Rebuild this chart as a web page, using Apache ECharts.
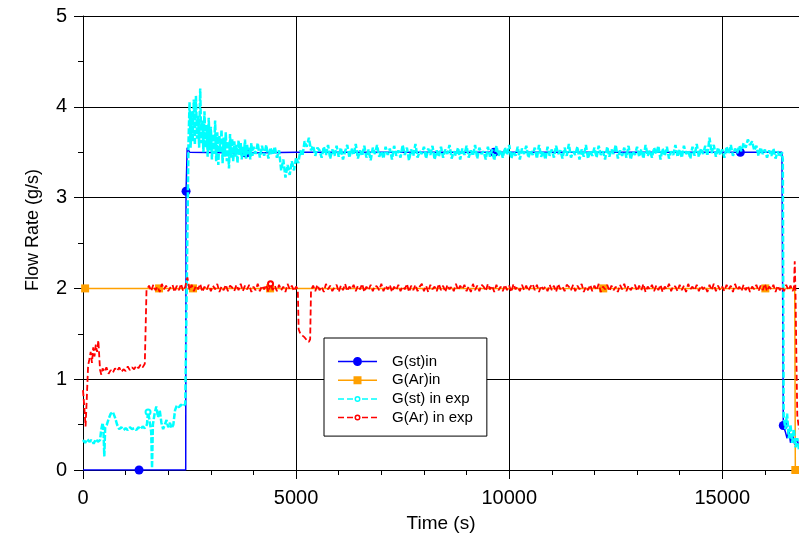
<!DOCTYPE html>
<html><head><meta charset="utf-8">
<script src="https://cdn.jsdelivr.net/npm/echarts@6/dist/echarts.min.js"></script>
<style>html,body{margin:0;padding:0;background:#fff}#c{width:799px;height:538px}</style>
</head><body><div id="c"></div>
<script>
// ---------------- data ----------------
const seriesNames = ['G(st)in', 'G(Ar)in', 'G(st) in exp', 'G(Ar) in exp'];
const xTicks = [0, 5000, 10000, 15000];
const yTicks = [0, 1, 2, 3, 4, 5];

// G(st)in
const stInTime = [0, 1315, 2410, 2418, 2445, 2500, 3826, 5000, 9648, 15423, 16400, 16432, 16480, 16520, 16560, 16600, 16650, 16700, 16750, 16800];
const stInFlow = [0, 0, 0, 3.07, 3.55, 3.5, 3.49, 3.5, 3.5, 3.5, 3.5, 0.49, 0.42, 0.35, 0.45, 0.30, 0.38, 0.28, 0.35, 0.25];
const stInMarks = [1315, 2418, 3826, 9648, 15423, 16432];

// G(Ar)in
const arInTime = [0, 50, 1784, 2582, 4390, 12207, 16010, 16700, 16714];
const arInFlow = [2, 2, 2, 2, 2, 2, 2, 2, 0];
const arInMarks = [50, 1784, 2582, 4390, 12207, 16010, 16714];

// G(st) in exp
const stExpTime = [0, 50, 100, 150, 200, 250, 300, 350, 400, 430, 460, 480, 500, 520, 560, 600, 650, 700, 750, 800, 850, 900, 950, 1000, 1050, 1100, 1150, 1200, 1250, 1300, 1350, 1400, 1450, 1500, 1526, 1560, 1600, 1620, 1640, 1680, 1720, 1760, 1800, 1840, 1880, 1920, 1960, 2000, 2040, 2080, 2120, 2160, 2200, 2250, 2300, 2350, 2400, 2440, 2460,
  2475, 2500, 2525, 2550, 2575, 2600, 2625, 2650, 2675, 2700, 2725, 2750, 2775, 2800, 2825, 2850, 2875, 2900, 2925, 2950, 2975,
  3000, 3025, 3050, 3075, 3100, 3125, 3150, 3175, 3200, 3225, 3250, 3275, 3300, 3325, 3350, 3375, 3400, 3425, 3450, 3475, 3500,
  3525, 3550, 3575, 3600, 3625, 3650, 3675, 3700, 3725, 3750, 3775, 3800, 3825, 3850, 3875, 3900, 3925, 3950, 3975, 4000,
  4050, 4100, 4150, 4200, 4250, 4300, 4350, 4400, 4450, 4500, 4550, 4600, 4650, 4700, 4750, 4800, 4850, 4900, 4950, 5000, 5050, 5100, 5150, 5200, 5250, 5300, 5350, 5400, 5450, 5500,
  5550, 5600, 5650, 5700, 5750, 5800, 5850, 5900, 5950, 6000, 6050, 6100, 6150, 6200, 6250, 6300, 6350, 6400, 6450, 6500,
  6550, 6600, 6650, 6700, 6750, 6800, 6850, 6900, 6950, 7000, 7050, 7100, 7150, 7200, 7250, 7300, 7350, 7400, 7450, 7500,
  7550, 7600, 7650, 7700, 7750, 7800, 7850, 7900, 7950, 8000, 8050, 8100, 8150, 8200, 8250, 8300, 8350, 8400, 8450, 8500,
  8550, 8600, 8650, 8700, 8750, 8800, 8850, 8900, 8950, 9000, 9050, 9100, 9150, 9200, 9250, 9300, 9350, 9400, 9450, 9500,
  9550, 9600, 9650, 9700, 9750, 9800, 9850, 9900, 9950, 10000, 10050, 10100, 10150, 10200, 10250, 10300, 10350, 10400, 10450, 10500,
  10550, 10600, 10650, 10700, 10750, 10800, 10850, 10900, 10950, 11000, 11050, 11100, 11150, 11200, 11250, 11300, 11350, 11400, 11450, 11500,
  11550, 11600, 11650, 11700, 11750, 11800, 11850, 11900, 11950, 12000, 12050, 12100, 12150, 12200, 12250, 12300, 12350, 12400, 12450, 12500,
  12550, 12600, 12650, 12700, 12750, 12800, 12850, 12900, 12950, 13000, 13050, 13100, 13150, 13200, 13250, 13300, 13350, 13400, 13450, 13500,
  13550, 13600, 13650, 13700, 13750, 13800, 13850, 13900, 13950, 14000, 14050, 14100, 14150, 14200, 14250, 14300, 14350, 14400, 14450, 14500,
  14550, 14600, 14650, 14700, 14750, 14800, 14850, 14900, 14950, 15000, 15050, 15100, 15150, 15200, 15250, 15300, 15350, 15400, 15450, 15500,
  15550, 15600, 15650, 15700, 15750, 15800, 15850, 15900, 15950, 16000, 16050, 16100, 16150, 16200, 16250, 16300, 16350, 16400,
  16420, 16440, 16480, 16520, 16560, 16600, 16640, 16680, 16720, 16760, 16800];
const stExpFlow = [0.33, 0.30, 0.34, 0.31, 0.33, 0.29, 0.34, 0.31, 0.33, 0.45, 0.52, 0.44, 0.15, 0.47, 0.50, 0.56, 0.62, 0.64, 0.58, 0.50, 0.45, 0.47, 0.44, 0.46, 0.44, 0.47, 0.45, 0.46, 0.44, 0.47, 0.45, 0.48, 0.46, 0.50, 0.64, 0.55, 0.42, 0.02, 0.50, 0.62, 0.70, 0.58, 0.66, 0.52, 0.45, 0.50, 0.55, 0.47, 0.52, 0.46, 0.50, 0.66, 0.71, 0.69, 0.72, 0.70, 0.73, 0.71, 3.00,
  3.60, 4.05, 3.55, 3.95, 3.62, 4.08, 3.58, 4.12, 3.65, 3.90, 3.55, 4.20, 3.60, 3.85, 3.50, 3.95, 3.55, 3.80, 3.45, 3.88, 3.52,
  3.78, 3.42, 3.70, 3.48, 3.85, 3.40, 3.72, 3.36, 3.68, 3.50, 3.75, 3.38, 3.66, 3.45, 3.72, 3.40, 3.62, 3.32, 3.70, 3.44, 3.65,
  3.40, 3.62, 3.45, 3.58, 3.38, 3.63, 3.47, 3.60, 3.42, 3.57, 3.46, 3.64, 3.43, 3.58, 3.48, 3.55, 3.42, 3.60, 3.46, 3.56,
  3.48, 3.60, 3.44, 3.57, 3.46, 3.58, 3.43, 3.55, 3.47, 3.56, 3.44, 3.52, 3.30, 3.42, 3.22, 3.36, 3.25, 3.40, 3.30, 3.44, 3.38, 3.52, 3.46, 3.62, 3.56, 3.66, 3.52, 3.57, 3.46, 3.55,
  3.52, 3.44, 3.56, 3.47, 3.58, 3.43, 3.53, 3.46, 3.57, 3.45, 3.55, 3.42, 3.51, 3.58, 3.44, 3.54, 3.47, 3.59, 3.43, 3.52,
  3.46, 3.57, 3.44, 3.53, 3.41, 3.55, 3.48, 3.58, 3.45, 3.51, 3.43, 3.56, 3.47, 3.54, 3.42, 3.57, 3.46, 3.52, 3.44, 3.58,
  3.47, 3.55, 3.41, 3.53, 3.46, 3.59, 3.44, 3.51, 3.48, 3.56, 3.43, 3.54, 3.47, 3.57, 3.42, 3.52, 3.45, 3.56, 3.44, 3.53,
  3.48, 3.58, 3.43, 3.51, 3.46, 3.55, 3.42, 3.54, 3.47, 3.57, 3.44, 3.52, 3.46, 3.58, 3.43, 3.55, 3.48, 3.51, 3.42, 3.56,
  3.45, 3.53, 3.41, 3.57, 3.46, 3.52, 3.44, 3.55, 3.47, 3.58, 3.43, 3.51, 3.46, 3.56, 3.42, 3.54, 3.48, 3.57, 3.44, 3.52,
  3.47, 3.55, 3.43, 3.58, 3.45, 3.51, 3.42, 3.56, 3.46, 3.53, 3.44, 3.57, 3.48, 3.52, 3.43, 3.55, 3.46, 3.59, 3.44, 3.51,
  3.47, 3.56, 3.42, 3.53, 3.45, 3.58, 3.43, 3.52, 3.46, 3.55, 3.44, 3.57, 3.47, 3.51, 3.42, 3.56, 3.45, 3.53, 3.48, 3.58,
  3.43, 3.52, 3.46, 3.55, 3.44, 3.57, 3.42, 3.51, 3.47, 3.56, 3.45, 3.53, 3.43, 3.58, 3.46, 3.52, 3.44, 3.55, 3.48, 3.57,
  3.42, 3.54, 3.46, 3.56, 3.43, 3.51, 3.47, 3.58, 3.45, 3.53, 3.44, 3.57, 3.48, 3.52, 3.43, 3.56, 3.46, 3.59, 3.45, 3.54,
  3.48, 3.57, 3.46, 3.66, 3.49, 3.58, 3.45, 3.55, 3.47, 3.53, 3.44, 3.56, 3.48, 3.58, 3.46, 3.54, 3.49, 3.57, 3.51, 3.60,
  3.55, 3.64, 3.58, 3.62, 3.52, 3.57, 3.46, 3.55, 3.48, 3.53, 3.44, 3.52, 3.46, 3.54, 3.43, 3.51, 3.45, 3.50,
  3.42, 0.60, 0.45, 0.62, 0.35, 0.50, 0.30, 0.45, 0.25, 0.35, 0.22];
const stExpMarks = [1526];

// G(Ar) in exp
const arExpTime = [0, 30, 60, 90, 120, 150, 180, 210, 240, 270, 300, 330, 360, 390, 400, 430, 460, 500, 550, 600, 650, 700, 750, 800, 850, 900, 950, 1000, 1050, 1100, 1150, 1200, 1250, 1300, 1350, 1400, 1450, 1470, 1490,
  1550, 1600, 1650, 1700, 1750, 1800, 1850, 1900, 1950, 2000, 2050, 2100, 2150, 2200, 2250, 2300, 2350, 2400, 2450, 2500,
  2550, 2600, 2650, 2700, 2750, 2800, 2850, 2900, 2950, 3000, 3050, 3100, 3150, 3200, 3250, 3300, 3350, 3400, 3450, 3500,
  3550, 3600, 3650, 3700, 3750, 3800, 3850, 3900, 3950, 4000, 4050, 4100, 4150, 4200, 4250, 4300, 4350, 4400, 4450, 4500,
  4550, 4600, 4650, 4700, 4750, 4800, 4850, 4900, 4950, 5000,
  5040, 5060, 5100, 5150, 5200, 5250, 5300, 5330, 5350,
  5400, 5450, 5500, 5550, 5600, 5650, 5700, 5750, 5800, 5850, 5900, 5950, 6000, 6050, 6100, 6150, 6200, 6250, 6300, 6350,
  6400, 6450, 6500, 6550, 6600, 6650, 6700, 6750, 6800, 6850, 6900, 6950, 7000, 7050, 7100, 7150, 7200, 7250, 7300, 7350,
  7400, 7450, 7500, 7550, 7600, 7650, 7700, 7750, 7800, 7850, 7900, 7950, 8000, 8050, 8100, 8150, 8200, 8250, 8300, 8350,
  8400, 8450, 8500, 8550, 8600, 8650, 8700, 8750, 8800, 8850, 8900, 8950, 9000, 9050, 9100, 9150, 9200, 9250, 9300, 9350,
  9400, 9450, 9500, 9550, 9600, 9650, 9700, 9750, 9800, 9850, 9900, 9950, 10000, 10050, 10100, 10150, 10200, 10250, 10300, 10350,
  10400, 10450, 10500, 10550, 10600, 10650, 10700, 10750, 10800, 10850, 10900, 10950, 11000, 11050, 11100, 11150, 11200, 11250, 11300, 11350,
  11400, 11450, 11500, 11550, 11600, 11650, 11700, 11750, 11800, 11850, 11900, 11950, 12000, 12050, 12100, 12150, 12200, 12250, 12300, 12350,
  12400, 12450, 12500, 12550, 12600, 12650, 12700, 12750, 12800, 12850, 12900, 12950, 13000, 13050, 13100, 13150, 13200, 13250, 13300, 13350,
  13400, 13450, 13500, 13550, 13600, 13650, 13700, 13750, 13800, 13850, 13900, 13950, 14000, 14050, 14100, 14150, 14200, 14250, 14300, 14350,
  14400, 14450, 14500, 14550, 14600, 14650, 14700, 14750, 14800, 14850, 14900, 14950, 15000, 15050, 15100, 15150, 15200, 15250, 15300, 15350,
  15400, 15450, 15500, 15550, 15600, 15650, 15700, 15750, 15800, 15850, 15900, 15950, 16000, 16050, 16100, 16150, 16200, 16250, 16300, 16350,
  16400, 16450, 16500, 16550, 16600, 16650,
  16680, 16700, 16720, 16740, 16760, 16800];
const arExpFlow = [0.88, 0.70, 0.48, 0.80, 1.15, 1.22, 1.30, 1.18, 1.35, 1.25, 1.38, 1.30, 1.43, 1.45, 1.10, 1.05, 1.12, 1.08, 1.13, 1.06, 1.10, 1.07, 1.12, 1.09, 1.13, 1.08, 1.11, 1.09, 1.14, 1.10, 1.13, 1.11, 1.15, 1.12, 1.16, 1.13, 1.17, 1.15, 1.98,
  2.03, 1.97, 2.04, 1.98, 2.02, 1.96, 2.05, 1.99, 2.03, 1.97, 2.01, 2.04, 1.96, 2.03, 1.98, 2.05, 1.97, 2.02, 2.12, 1.98,
  2.04, 1.97, 2.03, 1.99, 2.05, 1.96, 2.02, 1.98, 2.04, 1.97, 2.03, 1.99, 2.05, 1.96, 2.02, 1.98, 2.04, 1.97, 2.03, 2.01,
  1.97, 2.04, 1.98, 2.05, 1.97, 2.03, 1.99, 2.04, 1.96, 2.02, 1.98, 2.05, 1.97, 2.03, 1.99, 2.04, 1.96, 2.05, 1.98, 2.03,
  1.97, 2.04, 1.98, 2.02, 1.96, 2.05, 1.99, 2.03, 1.97, 2.02,
  1.99, 1.55, 1.50, 1.48, 1.46, 1.43, 1.41, 1.44, 1.98,
  2.03, 1.97, 2.04, 1.98, 2.02, 1.96, 2.05, 1.99, 2.03, 1.97, 2.01, 2.04, 1.96, 2.03, 1.98, 2.05, 1.97, 2.02, 1.99, 2.04,
  1.97, 2.03, 1.99, 2.05, 1.96, 2.02, 1.98, 2.04, 1.97, 2.03, 2.02, 1.98, 2.05, 1.97, 2.03, 1.99, 2.04, 1.96, 2.02, 1.98,
  2.04, 1.97, 2.02, 1.99, 2.05, 1.96, 2.03, 1.98, 2.04, 1.97, 2.02, 2.05, 1.97, 2.03, 1.96, 2.04, 1.99, 2.02, 1.97, 2.05,
  1.98, 2.03, 1.96, 2.04, 1.99, 2.02, 1.97, 2.05, 1.98, 2.03, 1.99, 2.04, 1.97, 2.02, 1.96, 2.05, 1.98, 2.03, 1.97, 2.04,
  2.02, 1.97, 2.05, 1.99, 2.03, 1.96, 2.04, 1.98, 2.02, 1.97, 2.04, 1.98, 2.03, 1.96, 2.05, 1.99, 2.02, 1.97, 2.04, 1.98,
  2.03, 1.97, 2.02, 2.05, 1.98, 2.04, 1.96, 2.03, 1.99, 2.02, 1.97, 2.04, 1.98, 2.03, 1.96, 2.05, 1.99, 2.02, 1.97, 2.04,
  2.02, 1.98, 2.04, 1.97, 2.03, 1.99, 2.05, 1.96, 2.02, 1.98, 2.04, 1.97, 2.03, 1.98, 2.05, 1.96, 2.02, 1.99, 2.04, 1.97,
  2.03, 1.98, 2.02, 1.96, 2.04, 1.99, 2.05, 1.97, 2.03, 1.98, 2.02, 2.04, 1.97, 2.03, 1.98, 2.05, 1.96, 2.02, 1.99, 2.04,
  1.97, 2.03, 1.98, 2.04, 1.96, 2.02, 1.99, 2.05, 1.97, 2.03, 2.02, 1.97, 2.04, 1.98, 2.03, 1.96, 2.05, 1.99, 2.02, 1.98,
  2.04, 1.97, 2.03, 1.99, 2.02, 1.96, 2.04, 1.98, 2.05, 1.97, 2.03, 1.98, 2.02, 1.97, 2.04, 1.99, 2.03, 1.96, 2.05, 1.98,
  2.02, 1.97, 2.04, 1.98, 2.03, 1.96, 2.02, 1.99, 2.04, 1.97, 2.03, 1.98, 2.05, 1.97, 2.02, 1.99, 2.04, 1.96, 2.03, 1.98,
  2.02, 1.97, 2.04, 1.98, 2.03, 1.97,
  2.00, 2.30, 1.90, 1.20, 0.60, 0.45];
const arExpMarks = [4400];

// ---------------- chart ----------------
const FONT = '"Liberation Sans", Arial, Helvetica, sans-serif';
function build(times, flows, marks, sym) {
  return times.map((t, i) => marks.indexOf(t) >= 0
    ? { value: [t, flows[i]], symbol: sym }
    : { value: [t, flows[i]], symbol: 'none' });
}

const iconSt = 'path://M0 3.75h15v1.5h-15Z M24 3.75h15v1.5h-15Z M15 4.5a4.5 4.5 0 1 1 9 0a4.5 4.5 0 1 1 -9 0Z';
const iconAr = 'path://M0 3.25h15.5v1.5h-15.5Z M23.5 3.25h15.5v1.5h-15.5Z M15.5 0h8v8h-8Z';
const iconExp = 'path://M0 3.25h6v1.5h-6Z M9 3.25h6v1.5h-6Z M24 3.25h6v1.5h-6Z M33 3.25h6v1.5h-6Z M16.5 4a3 3 0 1 1 6 0a3 3 0 1 1 -6 0Z M18 4a1.5 1.5 0 1 0 3 0a1.5 1.5 0 1 0 -3 0Z';

const chart = echarts.init(document.getElementById('c'), null, { renderer: 'canvas' });
chart.setOption({
  animation: false,
  backgroundColor: '#fff',
  grid: { left: 83, right: 0, top: 16, bottom: 67, containLabel: false },
  legend: {
    orient: 'vertical', left: 324, top: 338, z: 10,
    backgroundColor: '#fff', borderColor: '#000', borderWidth: 1, borderRadius: 0,
    padding: [16, 14, 11, 14],
    itemWidth: 39, itemHeight: 14, itemGap: 3.7,
    textStyle: { fontFamily: FONT, fontSize: 15, color: '#000', lineHeight: 15, padding: [0, 0, 0, 10] },
    data: [
      { name: seriesNames[0], icon: iconSt, itemStyle: { color: '#0000ff', borderWidth: 0 } },
      { name: seriesNames[1], icon: iconAr, itemStyle: { color: '#ffa000', borderWidth: 0 } },
      { name: seriesNames[2], icon: iconExp, itemStyle: { color: '#00ffff', borderWidth: 0 } },
      { name: seriesNames[3], icon: iconExp, itemStyle: { color: '#ff0000', borderWidth: 0 } }
    ],
    selectedMode: false
  },
  xAxis: [{
    type: 'value', min: 0, max: 16800, interval: 5000,
    name: 'Time (s)', nameLocation: 'middle', nameGap: 44,
    nameTextStyle: { fontFamily: FONT, fontSize: 19, color: '#000' },
    axisLine: { lineStyle: { color: '#000', width: 1 } },
    axisTick: { show: true, inside: false, length: 9, lineStyle: { color: '#000' } },
    axisLabel: { fontFamily: FONT, fontSize: 20, color: '#000', margin: 18, showMaxLabel: false,
      formatter: v => (xTicks.indexOf(v) >= 0 ? String(v) : '') },
    splitLine: { show: true, lineStyle: { color: '#000', width: 1 } }
  }, {
    type: 'value', min: 0, max: 16800, interval: 1000, position: 'bottom',
    axisLine: { show: false }, axisLabel: { show: false }, splitLine: { show: false },
    axisTick: { show: true, inside: false, length: 5, lineStyle: { color: '#000' } }
  }],
  yAxis: {
    type: 'value', min: 0, max: 5, interval: 1,
    name: 'Flow Rate (g/s)', nameLocation: 'middle', nameGap: 41,
    nameTextStyle: { fontFamily: FONT, fontSize: 18, color: '#000', padding: [0, 0, 0, 26] },
    axisLine: { show: true, lineStyle: { color: '#000', width: 1 } },
    axisTick: { show: true, inside: false, length: 9, lineStyle: { color: '#000' } },
    minorTick: { show: true, splitNumber: 2, length: 5, lineStyle: { color: '#000' } },
    axisLabel: { fontFamily: FONT, fontSize: 20, color: '#000', margin: 16,
      formatter: v => (yTicks.indexOf(v) >= 0 ? String(v) : '') },
    splitLine: { show: true, lineStyle: { color: '#000', width: 1 } }
  },
  series: [
    { name: seriesNames[0], type: 'line', z: 2, symbol: 'circle', symbolSize: 9,
      data: build(stInTime, stInFlow, stInMarks, 'circle'),
      itemStyle: { color: '#0000ff' }, lineStyle: { color: '#0000ff', width: 1.5 } },
    { name: seriesNames[1], type: 'line', z: 2, symbol: 'rect', symbolSize: 8,
      data: build(arInTime, arInFlow, arInMarks, 'rect'),
      itemStyle: { color: '#ffa000' }, lineStyle: { color: '#ffa000', width: 1.5 } },
    { name: seriesNames[2], type: 'line', z: 3, symbol: 'emptyCircle', symbolSize: 5,
      data: build(stExpTime, stExpFlow, stExpMarks, 'emptyCircle'),
      itemStyle: { color: '#00ffff', borderWidth: 1.5 }, lineStyle: { color: '#00ffff', width: 2.5, type: [6, 2] } },
    { name: seriesNames[3], type: 'line', z: 3, symbol: 'emptyCircle', symbolSize: 5,
      data: build(arExpTime, arExpFlow, arExpMarks, 'emptyCircle'),
      itemStyle: { color: '#ff0000', borderWidth: 1.5 }, lineStyle: { color: '#ff0000', width: 1.8, type: [6, 3] } }
  ]
});
</script></body></html>
